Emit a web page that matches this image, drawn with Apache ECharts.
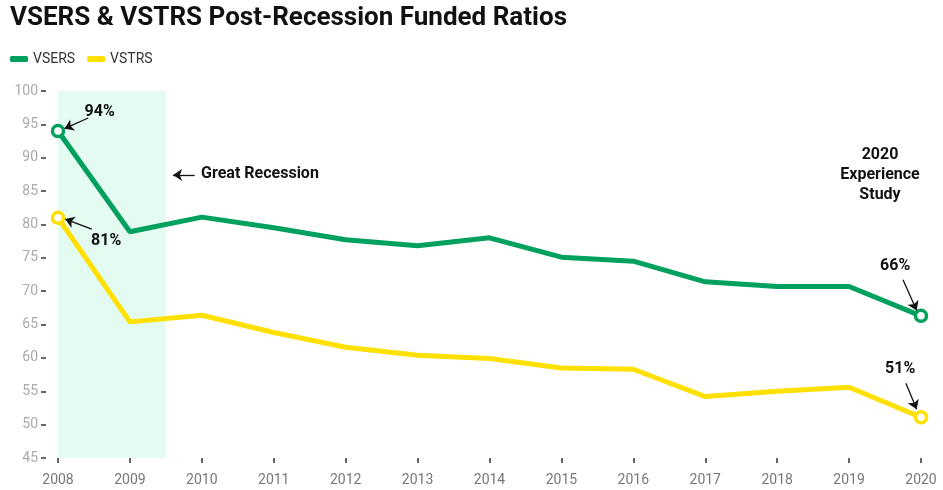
<!DOCTYPE html>
<html>
<head>
<meta charset="utf-8">
<script src="https://cdn.jsdelivr.net/npm/echarts@6/dist/echarts.min.js"></script>
<style>
  html, body { margin: 0; padding: 0; background: #fff; }
  #chart { width: 943px; height: 490px; }
</style>
</head>
<body>
<div id="chart"></div>
<script>
// 数据
const years = [2008, 2009, 2010, 2011, 2012, 2013, 2014, 2015, 2016, 2017, 2018, 2019, 2020];
const vsers = [94.0, 78.9, 81.1, 79.5, 77.7, 76.8, 78.0, 75.1, 74.5, 71.4, 70.7, 70.7, 66.3];
const vstrs = [81.0, 65.4, 66.4, 63.8, 61.6, 60.4, 59.9, 58.5, 58.3, 54.2, 55.0, 55.6, 51.1];
const recession = [2008, 2009.5];

const GREEN = '#00A05E';
const YELLOW = '#FFE000';
const FONT = 'Roboto, "Noto Sans", sans-serif';

// 只在首尾显示空心圆点
function endSymbolSize(value, params) {
  return (params.dataIndex === 0 || params.dataIndex === years.length - 1) ? 11 : 0;
}

function toSeriesData(values) {
  return values.map((v, i) => [years[i], v]);
}

// 注释箭头（数据坐标）
const arrows = [
  [[2008.42, 95.95], [2008.09, 94.35]],
  [[2008.47, 79.3], [2008.1, 80.8]],
  [[2009.9, 87.4], [2009.6, 87.4]],
  [[2019.75, 71.7], [2019.94, 67.1]],
  [[2019.79, 56.2], [2019.94, 52.3]]
];

const chart = echarts.init(document.getElementById('chart'));

chart.setOption({
  backgroundColor: '#fff',
  animation: false,
  textStyle: { fontFamily: FONT },
  title: {
    text: 'VSERS & VSTRS Post-Recession Funded Ratios',
    left: 5,
    top: 0,
    textStyle: { fontFamily: FONT, fontSize: 26, fontWeight: 'bold', color: '#111' }
  },
  legend: {
    left: 5,
    top: 47,
    itemWidth: 18,
    itemHeight: 6,
    itemGap: 12,
    icon: 'roundRect',
    textStyle: { fontFamily: FONT, fontSize: 14, color: '#333' },
    data: [
      { name: 'VSERS', itemStyle: { color: GREEN, borderWidth: 0 } },
      { name: 'VSTRS', itemStyle: { color: YELLOW, borderWidth: 0 } }
    ]
  },
  grid: { left: 58, right: 22, top: 91, bottom: 32, containLabel: false },
  xAxis: {
    type: 'value',
    min: 2008,
    max: 2020,
    interval: 1,
    axisLine: { show: false },
    axisTick: { show: true, length: 5, lineStyle: { color: '#333', width: 1.5 } },
    splitLine: { show: false },
    axisLabel: { color: '#777', fontSize: 14, margin: 15, formatter: v => String(v) }
  },
  yAxis: {
    type: 'value',
    min: 45,
    max: 100,
    interval: 5,
    offset: 12,
    axisLine: { show: false },
    axisTick: { show: true, length: 5, lineStyle: { color: '#333', width: 1.5 } },
    splitLine: { show: false },
    axisLabel: { color: '#aaa', fontSize: 14, margin: 8 }
  },
  series: [
    {
      name: 'VSERS',
      type: 'line',
      symbol: 'circle',
      symbolSize: endSymbolSize,
      showSymbol: true,
      color: GREEN,
      lineStyle: { width: 5, color: GREEN },
      itemStyle: { color: '#fff', borderColor: GREEN, borderWidth: 3.5 },
      data: toSeriesData(vsers),
      z: 3,
      markArea: {
        silent: true,
        itemStyle: { color: '#E3FBF0', borderWidth: 0 },
        data: [[{ xAxis: recession[0] }, { xAxis: recession[1] }]]
      },
      markLine: {
        silent: true,
        symbol: ['none', 'arrow'],
        symbolSize: 9,
        label: { show: false },
        lineStyle: { color: '#111', width: 1.3, type: 'solid' },
        data: arrows.map(a => [{ coord: a[0] }, { coord: a[1] }])
      }
    },
    {
      name: 'VSTRS',
      type: 'line',
      symbol: 'circle',
      symbolSize: endSymbolSize,
      showSymbol: true,
      color: YELLOW,
      lineStyle: { width: 5, color: YELLOW },
      itemStyle: { color: '#fff', borderColor: YELLOW, borderWidth: 3.5 },
      data: toSeriesData(vstrs),
      z: 2
    }
  ]
});

// 注释文字
const notes = [
  { pos: [2008.58, 96.9], text: '94%', align: 'center' },
  { pos: [2008.67, 77.5], text: '81%', align: 'center' },
  { pos: [2009.99, 87.6], text: 'Great Recession', align: 'left' },
  { pos: [2019.43, 87.4], text: '2020\nExperience\nStudy', align: 'center' },
  { pos: [2019.64, 73.8], text: '66%', align: 'center' },
  { pos: [2019.71, 58.3], text: '51%', align: 'center' }
];

chart.setOption({
  graphic: notes.map(n => {
    const p = chart.convertToPixel({ gridIndex: 0 }, n.pos);
    return {
      type: 'text',
      x: p[0],
      y: p[1],
      z: 100,
      silent: true,
      style: {
        text: n.text,
        fill: '#111',
        font: 'bold 16px ' + FONT,
        align: n.align,
        verticalAlign: 'middle',
        lineHeight: 20
      }
    };
  })
});
</script>
</body>
</html>
